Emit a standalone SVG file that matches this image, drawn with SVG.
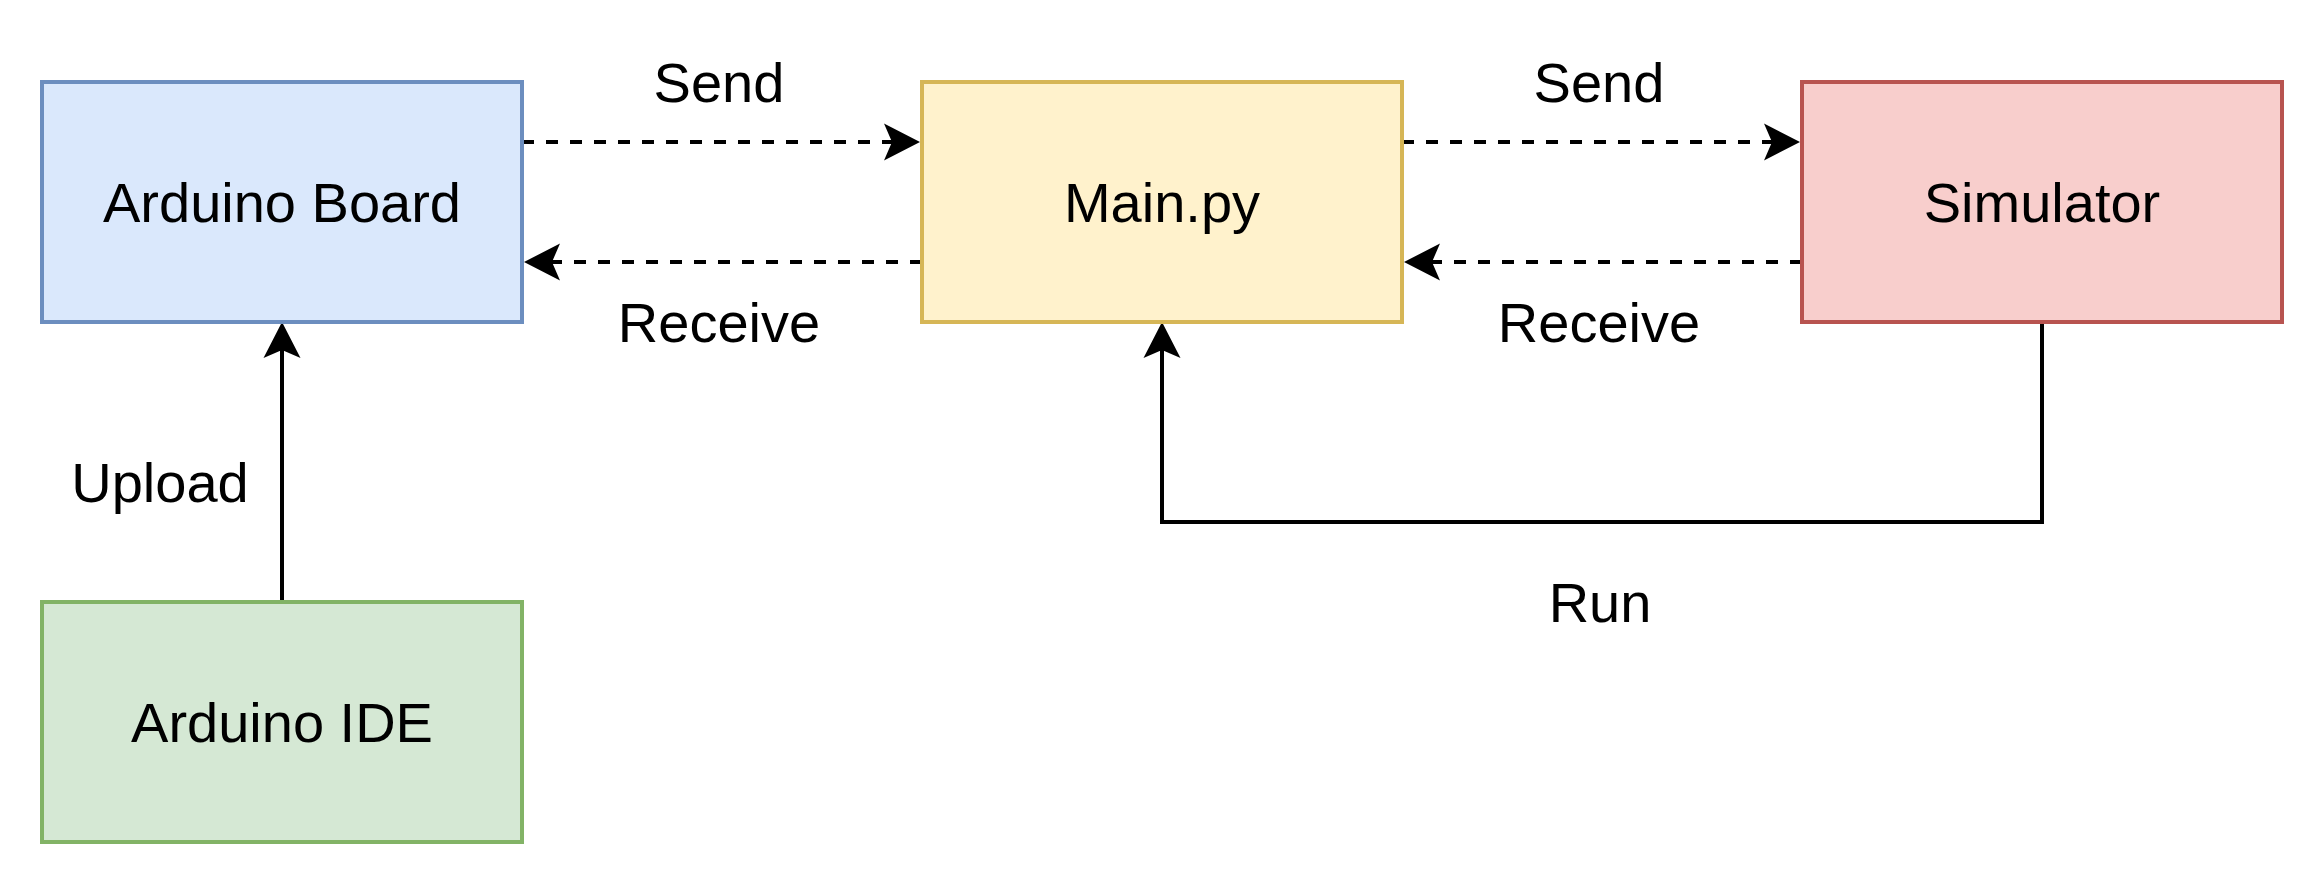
<svg xmlns="http://www.w3.org/2000/svg" width="2324" height="884" viewBox="0 0 2324 884">
  <style>
    .box { stroke-width: 4; }
    .lbl { font-family: "Liberation Sans", Arial, Helvetica, sans-serif; font-size: 56px; fill: #000000; text-anchor: middle; }
    .conn { fill: none; stroke: #000000; stroke-width: 4; stroke-linejoin: miter; }
    .dash { stroke-dasharray: 12 12; }
  </style>
  <defs>
    <marker id="arrow" markerUnits="userSpaceOnUse" orient="auto" refX="0" refY="0" markerWidth="80" markerHeight="80" overflow="visible">
      <path d="M28,0 L-8,-18.5 L0,0 L-8,18.5 Z" fill="#000000" stroke="none"/>
    </marker>
  </defs>
  <rect width="2324" height="884" fill="#ffffff"/>

  <g id="connectors">
    <path class="conn dash" d="M522,142 H892" marker-end="url(#arrow)"/>
    <path class="conn dash" d="M922,262 H552" marker-end="url(#arrow)"/>
    <path class="conn dash" d="M1402,142 H1772" marker-end="url(#arrow)"/>
    <path class="conn dash" d="M1802,262 H1432" marker-end="url(#arrow)"/>
    <path class="conn" d="M282,602 V350" marker-end="url(#arrow)"/>
    <path class="conn" d="M2042,322 V522 H1162 V350" marker-end="url(#arrow)"/>
    <text class="lbl" x="719" y="102">Send</text>
    <text class="lbl" x="719" y="342">Receive</text>
    <text class="lbl" x="1599" y="102">Send</text>
    <text class="lbl" x="1599" y="342">Receive</text>
    <text class="lbl" x="160" y="502">Upload</text>
    <text class="lbl" x="1600" y="622">Run</text>
  </g>

  <g id="arduino-board">
    <rect class="box" x="42" y="82" width="480" height="240" fill="#dae8fc" stroke="#6c8ebf"/>
    <text class="lbl" x="282" y="222">Arduino Board</text>
  </g>
  <g id="main-py">
    <rect class="box" x="922" y="82" width="480" height="240" fill="#fff2cc" stroke="#d6b656"/>
    <text class="lbl" x="1162" y="222">Main.py</text>
  </g>
  <g id="simulator">
    <rect class="box" x="1802" y="82" width="480" height="240" fill="#f8cecc" stroke="#b85450"/>
    <text class="lbl" x="2042" y="222">Simulator</text>
  </g>
  <g id="arduino-ide">
    <rect class="box" x="42" y="602" width="480" height="240" fill="#d5e8d4" stroke="#82b366"/>
    <text class="lbl" x="282" y="742">Arduino IDE</text>
  </g>
</svg>
